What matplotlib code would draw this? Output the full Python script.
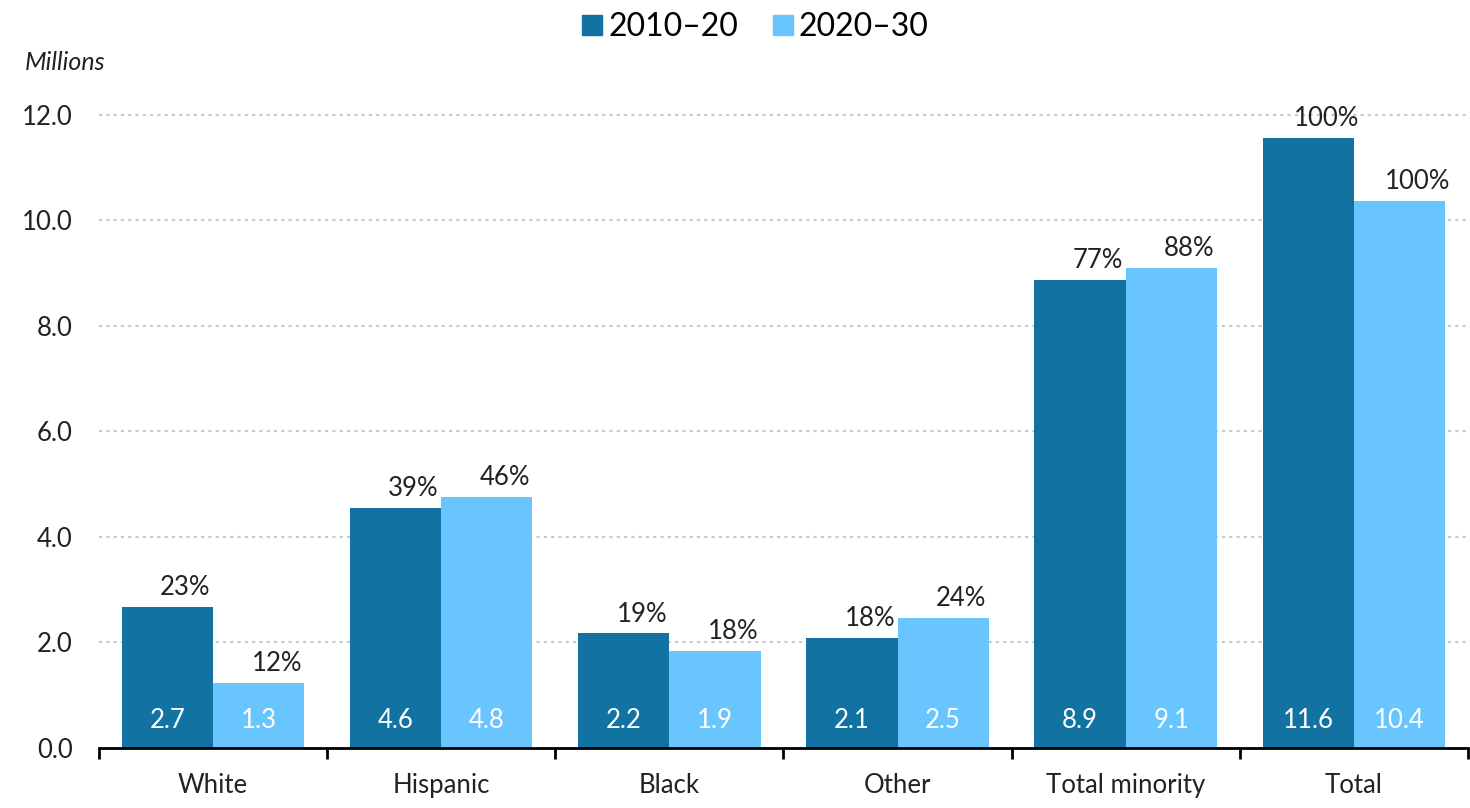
import matplotlib.pyplot as plt
from matplotlib.lines import Line2D
import numpy as np

plt.rcParams['font.family'] = ['Lato', 'DejaVu Sans']

categories = ['White', 'Hispanic', 'Black', 'Other', 'Total minority', 'Total']
series_names = ['2010\u201320', '2020\u201330']
# bar heights (millions)
vals_2010 = [2.68, 4.55, 2.17, 2.09, 8.87, 11.57]
vals_2020 = [1.24, 4.76, 1.84, 2.46, 9.10, 10.37]
# labels as printed on the chart
lbl_2010 = ['2.7', '4.6', '2.2', '2.1', '8.9', '11.6']
lbl_2020 = ['1.3', '4.8', '1.9', '2.5', '9.1', '10.4']
pct_2010 = ['23%', '39%', '19%', '18%', '77%', '100%']
pct_2020 = ['12%', '46%', '18%', '24%', '88%', '100%']

dark = '#1273a3'
light = '#69c5fd'
txt = '#222222'

fig = plt.figure(figsize=(14.7, 8.08), dpi=100)
ax = fig.add_axes([0.0673, 0.0743, 0.9313, 0.803])

x = np.arange(len(categories))
w = 0.4
b1 = ax.bar(x - w / 2, vals_2010, w, color=dark, zorder=3)
b2 = ax.bar(x + w / 2, vals_2020, w, color=light, zorder=3)

for bars, lbls, pcts in [(b1, lbl_2010, pct_2010), (b2, lbl_2020, pct_2020)]:
    for bar, l, p in zip(bars, lbls, pcts):
        cx = bar.get_x() + bar.get_width() / 2
        ax.text(cx, 0.53, l, ha='center', va='center', color='white', fontsize=18.5, zorder=4)
        ax.annotate(p, (cx, bar.get_height()), xytext=(13, 5), textcoords='offset points',
                    ha='center', va='bottom', color=txt, fontsize=18.5)

ax.set_xlim(-0.5, len(categories) - 0.5)
ax.set_ylim(0, 12.3)
ax.set_yticks(np.arange(0, 12.1, 2))
ax.set_yticklabels([f'{v:.1f}' for v in np.arange(0, 12.1, 2)])
ax.tick_params(axis='y', length=0, pad=19, labelsize=18.5, labelcolor=txt)
ax.grid(axis='y', linestyle=(0, (1.5, 2)), color='#c8c8c8', linewidth=1.5, zorder=0)

ax.set_xticks(x)
ax.set_xticklabels(categories)
ax.tick_params(axis='x', length=0, pad=18, labelsize=18.5, labelcolor=txt)
ax.set_xticks(np.arange(-0.5, len(categories)), minor=True)
ax.tick_params(axis='x', which='minor', length=8, width=2, direction='out', color='black')

for s in ['top', 'right', 'left']:
    ax.spines[s].set_visible(False)
ax.spines['bottom'].set_linewidth(2)
ax.spines['bottom'].set_zorder(5)

fig.text(0.017, 0.923, 'Millions', style='italic', fontsize=18, color=txt, va='center')

handles = [Line2D([], [], marker='s', linestyle='none', markersize=15, color=c)
           for c in [dark, light]]
fig.legend(handles, series_names, loc='center', bbox_to_anchor=(0.513, 0.966), ncol=2,
           frameon=False, fontsize=23, handletextpad=0.1, columnspacing=1.0,
           handlelength=0.8)

fig.savefig('out.png', dpi=100)
